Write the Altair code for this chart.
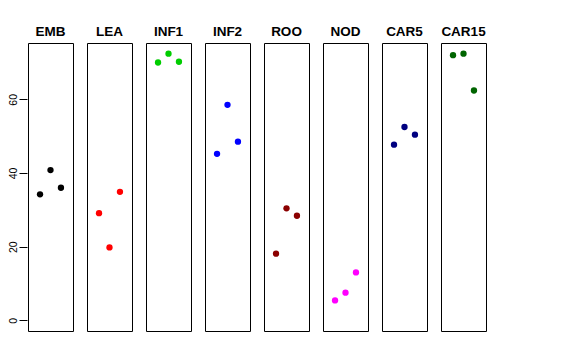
import altair as alt
import pandas as pd

panels = ["EMB", "LEA", "INF1", "INF2", "ROO", "NOD", "CAR5", "CAR15"]
colors = ["#000000", "#FF0000", "#00CD00", "#0000FF", "#8B0000", "#FF00FF", "#000080", "#006400"]
jitter = [-1, 0, 1]
values = {
    "EMB": [34.2, 40.8, 36.0],
    "LEA": [29.1, 19.8, 34.9],
    "INF1": [70.0, 72.4, 70.2],
    "INF2": [45.2, 58.5, 48.5],
    "ROO": [18.1, 30.4, 28.4],
    "NOD": [5.4, 7.5, 13.0],
    "CAR5": [47.7, 52.5, 50.4],
    "CAR15": [72.0, 72.4, 62.4],
}
y_ticks = [0, 20, 40, 60]

rows = []
for p in panels:
    for j, v in zip(jitter, values[p]):
        rows.append({"panel": p, "x": j, "value": v})
df = pd.DataFrame(rows)

chart = alt.Chart(df).mark_circle(size=40, opacity=1).encode(
    x=alt.X("x:Q", scale=alt.Scale(domain=[-2.15, 2.15], nice=False, zero=False), axis=None),
    y=alt.Y("value:Q",
            scale=alt.Scale(domain=[-2.9, 75.3], nice=False, zero=False),
            axis=alt.Axis(values=y_ticks, title=None, grid=False, domain=False,
                          tickSize=8, tickColor="#000000", labelAngle=-90,
                          labelAlign="center", labelBaseline="alphabetic",
                          labelPadding=3, labelFontSize=10.5, labelColor="#000000",
                          labelFont="Liberation Sans")),
    color=alt.Color("panel:N", scale=alt.Scale(domain=panels, range=colors), legend=None),
).properties(width=45, height=288).facet(
    column=alt.Column("panel:N", sort=panels,
                      header=alt.Header(title=None, labelFontSize=13.5, labelFontWeight="bold",
                                        labelFont="Liberation Sans", labelColor="#000000",
                                        labelOrient="top", labelPadding=4)),
    spacing=12,
).configure_view(stroke="#000000", strokeWidth=1).properties(
    background="#ffffff",
    padding={"left": 0, "top": 16, "right": 5, "bottom": 5},
)

chart.save("out.html", embed_options={"renderer": "svg", "actions": False})
